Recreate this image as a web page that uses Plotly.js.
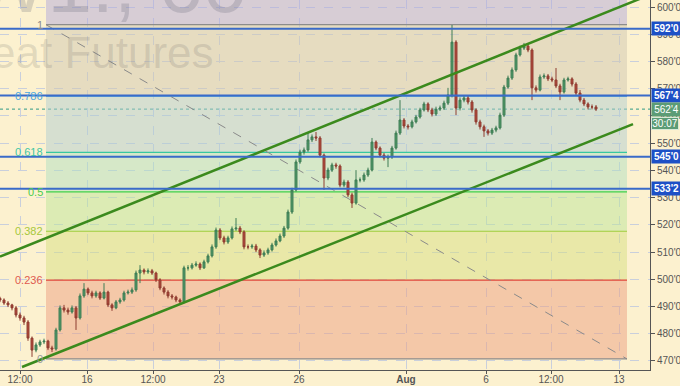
<!DOCTYPE html>
<html>
<head>
<meta charset="utf-8">
<script src="https://cdn.plot.ly/plotly-3.0.1.min.js"></script>
<style>html,body{margin:0;padding:0;background:#fcf1cf;}#chart{width:680px;height:386px;}</style>
</head>
<body>
<div id="chart"></div>
<script>
// ---- OHLC data (hourly bars) ----
const opens = [493.0,492.4,491.3,490.6,489.5,486.9,485.8,484.3,478.4,474.0,475.9,477.0,477.3,474.8,474.4,481.4,489.5,488.7,488.0,489.5,
485.8,493.9,496.4,495.0,493.9,495.0,493.1,495.3,490.6,489.5,491.7,492.4,495.0,495.3,496.1,502.3,503.4,502.7,503.1,502.3,
499.8,496.8,495.3,493.9,493.5,492.4,491.7,504.2,504.2,505.2,505.6,504.2,506.4,508.6,511.9,518.1,515.2,513.7,515.2,518.5,
518.8,517.4,511.9,511.9,512.2,510.8,508.9,509.7,510.8,512.6,514.1,515.9,518.8,524.7,532.8,543.1,546.7,547.5,551.2,552.3,
551.9,545.6,537.2,540.1,542.0,541.6,534.6,535.7,531.0,528.0,536.5,536.5,538.3,540.1,550.4,548.2,545.6,544.5,544.9,548.2,
553.7,558.5,556.3,556.0,557.8,559.6,562.2,564.4,562.2,560.7,562.5,562.9,564.7,567.7,587.1,562.9,565.8,566.6,565.1,562.2,
557.8,556.0,554.5,553.7,554.8,555.6,560.3,570.6,573.9,576.9,582.4,584.9,585.7,584.2,570.3,569.5,574.3,574.7,573.6,573.2,
571.0,568.8,573.2,573.6,571.7,568.4,565.8,564.4,563.3,563.3];
const highs = [493.6,493.0,492.0,491.0,490.2,487.8,486.6,485.0,479.0,476.8,477.8,478.2,477.8,475.6,482.2,490.4,490.6,489.6,490.4,490.2,
494.8,498.6,497.0,495.8,495.8,495.6,498.6,495.8,491.2,492.4,493.2,495.8,496.2,497.0,503.2,505.2,504.0,504.0,503.8,502.8,
500.4,497.4,496.0,494.6,494.0,493.0,505.0,505.2,506.0,506.6,506.2,507.2,509.4,512.8,519.0,518.8,516.0,516.0,519.4,522.5,
519.6,518.0,512.8,513.0,513.0,511.4,510.6,511.6,513.4,515.0,516.8,519.6,525.6,533.6,544.0,547.6,548.4,554.1,553.2,554.1,
552.6,546.2,541.0,542.8,542.8,542.2,536.6,536.4,531.8,540.1,537.4,539.2,541.0,551.9,551.0,548.8,546.4,545.8,549.0,554.6,
565.8,559.2,557.0,558.6,560.4,563.0,565.2,565.0,563.0,563.4,563.8,565.6,570.3,593.4,587.8,566.8,567.6,567.4,565.8,562.8,
558.6,556.8,555.2,555.6,556.4,561.2,571.4,574.8,577.8,583.2,585.8,586.8,586.4,584.8,571.2,575.2,575.6,575.4,574.4,577.6,
571.8,574.0,574.4,574.2,572.4,569.5,566.6,565.0,564.2,564.0];
const lows = [491.6,490.6,489.8,488.6,486.0,484.8,483.2,477.4,471.5,473.2,475.2,476.2,474.0,473.3,473.8,480.8,487.8,487.0,487.4,481.4,
485.2,493.2,494.2,493.0,493.2,492.4,492.6,489.8,488.4,489.0,491.0,491.8,494.4,494.6,495.4,498.6,501.8,502.0,501.6,499.0,
496.0,494.4,493.0,492.6,491.6,490.8,491.2,503.2,503.6,504.6,503.4,503.8,505.8,508.0,511.2,514.4,512.8,513.0,514.6,517.8,
516.6,511.0,511.0,511.2,510.0,507.8,508.2,509.0,510.2,512.0,513.6,515.2,518.2,524.0,532.2,542.4,545.8,546.8,550.4,550.8,
544.8,532.8,536.4,539.4,540.6,533.8,533.8,530.2,526.2,527.4,535.6,535.8,537.6,539.6,547.4,544.8,543.6,541.2,544.2,547.6,
553.0,555.4,555.0,555.4,557.2,559.0,561.6,561.4,559.8,560.0,561.8,562.2,564.0,566.8,560.3,562.0,565.0,564.2,561.2,556.8,
555.0,552.3,552.8,553.0,554.0,555.0,559.6,570.0,573.2,576.2,581.8,584.2,583.4,565.8,568.6,569.0,573.6,572.8,572.4,570.2,
565.8,568.2,572.6,570.8,567.6,565.0,563.6,562.4,562.4,561.8];
const closes = [492.4,491.3,490.6,489.5,486.9,485.8,484.3,478.4,474.0,475.9,477.0,477.3,474.8,474.4,481.4,489.5,488.7,488.0,489.5,485.8,
493.9,496.4,495.0,493.9,495.0,493.1,495.3,490.6,489.5,491.7,492.4,495.0,495.3,496.1,502.3,503.4,502.7,503.1,502.3,499.8,
496.8,495.3,493.9,493.5,492.4,491.7,504.2,504.2,505.2,505.6,504.2,506.4,508.6,511.9,518.1,515.2,513.7,515.2,518.5,518.8,
517.4,511.9,511.9,512.2,510.8,508.9,509.7,510.8,512.6,514.1,515.9,518.8,524.7,532.8,543.1,546.7,547.5,551.2,552.3,551.9,
545.6,537.2,540.1,542.0,541.6,534.6,535.7,531.0,528.0,536.5,536.5,538.3,540.1,550.4,548.2,545.6,544.5,544.9,548.2,553.7,
558.5,556.3,556.0,557.8,559.6,562.2,564.4,562.2,560.7,562.5,562.9,564.7,567.7,587.1,562.9,565.8,566.6,565.1,562.2,557.8,
556.0,554.5,553.7,554.8,555.6,560.3,570.6,573.9,576.9,582.4,584.9,585.7,584.2,570.3,569.5,574.3,574.7,573.6,573.2,571.0,
568.8,573.2,573.6,571.7,568.4,565.8,564.4,563.3,563.3,562.5];

// ---- axis ticks ----
const xTickVals = [5, 21.75, 38.25, 54.75, 74.75, 101.5, 121.5, 137.75, 154.75];
const xTickLabels = ["12:00", "16", "12:00", "23", "26", "<b>Aug</b>", "6", "12:00", "13"];
const yTickVals = [470,480,490,500,510,520,530,540,550,560,570,580,590,600];
const yTickLabels = ["470'0","480'0","490'0","500'0","510'0","520'0","530'0","540'0","550'0","560'0","570'0","580'0","590'0","600'0"];

// ---- drawings ----
const fibStartX = 11.5, fibEndX = 156.75;
const fibHigh = 593.5, fibLow = 470.75;
const fibRatios = [0, 0.236, 0.382, 0.5, 0.618, 0.786, 1];
const fibLabels = ["0", "0.236", "0.382", "0.5", "0.618", "0.786", "1"];
const fibLineColors = ["#8c8c8c", "#e0463a", "#9fcc3c", "#3fd04a", "#38c8a0", "#3fa0e0", "#8c8c8c"];
const fibLabelColors = ["#9a9a9a", "#e05a50", "#a6c83c", "#4ccc4c", "#3ec6a4", "#4aa6e0", "#8a8a8a"];
const fibZoneColors = ["rgba(236,159,129,0.5)", "rgba(214,223,129,0.5)", "rgba(188,229,153,0.5)",
  "rgba(176,223,193,0.5)", "rgba(176,205,209,0.5)", "rgba(208,199,177,0.5)", "rgba(178,169,219,0.5)"];
const hLevels = [592.0, 567.5, 545.0, 533.25];
const hLabels = ["592'0", "567'4", "545'0", "533'2"];
const lastPrice = 562.5, lastLabel = "562'4", countdown = "30:07";
const channelUpperX = [0, 162.5], channelUpperY = [508.3, 604.5];
const channelLowerX = [5.5, 158.25], channelLowerY = [467.8, 557.0];
const trendX = [11.5, 156.75], trendY = [593.5, 470.75];

const idx = closes.map((_, i) => i);
const fibPrices = fibRatios.map(r => fibLow + r * (fibHigh - fibLow));

const shapes = [];
for (let k = 0; k < fibPrices.length; k++) {
  const y0 = fibPrices[k];
  const y1 = k < fibPrices.length - 1 ? fibPrices[k + 1] : 640;
  shapes.push({type: 'rect', xref: 'x', yref: 'y', x0: fibStartX, x1: fibEndX, y0: y0, y1: y1,
    fillcolor: fibZoneColors[k], line: {width: 0}, layer: 'between'});
}
fibPrices.forEach((p, k) => {
  shapes.push({type: 'line', xref: 'x', yref: 'y', x0: fibStartX, x1: fibEndX, y0: p, y1: p,
    line: {color: fibLineColors[k], width: 1.2}, layer: 'between'});
});
shapes.push({type: 'line', xref: 'x', yref: 'y', x0: trendX[0], x1: trendX[1], y0: trendY[0], y1: trendY[1],
  line: {color: '#8a8a8a', width: 1, dash: 'dash'}, layer: 'between'});
hLevels.forEach(p => {
  shapes.push({type: 'line', xref: 'paper', yref: 'y', x0: 0, x1: 1, y0: p, y1: p,
    line: {color: '#3a6bc9', width: 2}, layer: 'above'});
});
shapes.push({type: 'line', xref: 'paper', yref: 'y', x0: 0, x1: 1, y0: lastPrice, y1: lastPrice,
  line: {color: '#2f9a86', width: 1, dash: 'dot'}, layer: 'between'});

const annotations = [];
fibPrices.forEach((p, k) => {
  annotations.push({xref: 'x', yref: 'y', x: fibStartX - 0.3, y: p, text: fibLabels[k], showarrow: false,
    xanchor: 'right', yanchor: 'middle', font: {family: 'Liberation Sans, Arial', size: 11, color: fibLabelColors[k]}});
});
hLevels.forEach((p, k) => {
  annotations.push({xref: 'paper', yref: 'y', x: 1, xshift: 1, y: p, text: '<b>' + hLabels[k] + '</b>', showarrow: false,
    xanchor: 'left', yanchor: 'middle', bgcolor: '#1d50c6', borderpad: 1, width: 27,
    font: {family: 'Liberation Sans, Arial', size: 10, color: '#ffffff'}});
});
annotations.push({xref: 'paper', yref: 'y', x: 1, xshift: 1, y: lastPrice, text: lastLabel, showarrow: false,
  xanchor: 'left', yanchor: 'middle', bgcolor: '#5c9c76', borderpad: 1, width: 27,
  font: {family: 'Liberation Sans, Arial', size: 10, color: '#ffffff'}});
annotations.push({xref: 'paper', yref: 'y', x: 1, xshift: 1, y: lastPrice, yshift: -14, text: countdown, showarrow: false,
  xanchor: 'left', yanchor: 'middle', bgcolor: '#5c9c76', bordercolor: '#d8ead8', borderwidth: 1, borderpad: 0, width: 26,
  font: {family: 'Liberation Sans, Arial', size: 10, color: '#ffffff'}});
annotations.push({xref: 'paper', yref: 'paper', x: 250 / 650, y: 1 - 31 / 370, text: 'ZW1!, 60', showarrow: false,
  xanchor: 'right', yanchor: 'bottom', font: {family: 'Liberation Sans, Arial', size: 80, color: 'rgba(90,90,110,0.22)'}});
annotations.push({xref: 'paper', yref: 'paper', x: 216 / 650, y: 1 - 53 / 370, text: 'Wheat Futures', showarrow: false,
  xanchor: 'right', yanchor: 'middle', font: {family: 'Liberation Sans, Arial', size: 44, color: 'rgba(90,90,90,0.17)'}});

const traces = [
  {type: 'candlestick', x: idx, open: opens, high: highs, low: lows, close: closes,
   increasing: {line: {color: '#3f7d55', width: 1}, fillcolor: '#4f9a67'},
   decreasing: {line: {color: '#8e3d31', width: 1}, fillcolor: '#b5483a'},
   whiskerwidth: 0, hoverinfo: 'skip', showlegend: false},
  {type: 'scatter', mode: 'lines', x: channelUpperX, y: channelUpperY,
   line: {color: '#3b8a1d', width: 2.5}, hoverinfo: 'skip', showlegend: false},
  {type: 'scatter', mode: 'lines', x: channelLowerX, y: channelLowerY,
   line: {color: '#3b8a1d', width: 2.5}, hoverinfo: 'skip', showlegend: false}
];

const layout = {
  width: 680, height: 386,
  margin: {l: 0, r: 30, t: 0, b: 16, pad: 0},
  paper_bgcolor: '#fcf1cf', plot_bgcolor: '#fcf1cf',
  showlegend: false,
  xaxis: {range: [0, 162.5], tickvals: xTickVals, ticktext: xTickLabels, rangeslider: {visible: false},
    showgrid: true, gridcolor: '#c9cfdc', griddash: 'dash', gridwidth: 1,
    showline: true, linecolor: '#555', linewidth: 1, ticks: 'outside', ticklen: 3, tickcolor: '#555',
    ticklabelstandoff: -3,
    zeroline: false, fixedrange: true,
    tickfont: {family: 'Liberation Sans, Arial', size: 10, color: '#555'}},
  yaxis: {range: [466.69, 602.57], side: 'right', tickvals: yTickVals, ticktext: yTickLabels,
    showgrid: true, gridcolor: '#c9cfdc', griddash: 'dash', gridwidth: 1,
    showline: true, linecolor: '#555', linewidth: 1, ticks: 'outside', ticklen: 4, tickcolor: '#555',
    zeroline: false, fixedrange: true,
    tickfont: {family: 'Liberation Sans, Arial', size: 10, color: '#555'}},
  shapes: shapes,
  annotations: annotations
};

Plotly.newPlot('chart', traces, layout, {displayModeBar: false, staticPlot: true});
</script>
</body>
</html>
